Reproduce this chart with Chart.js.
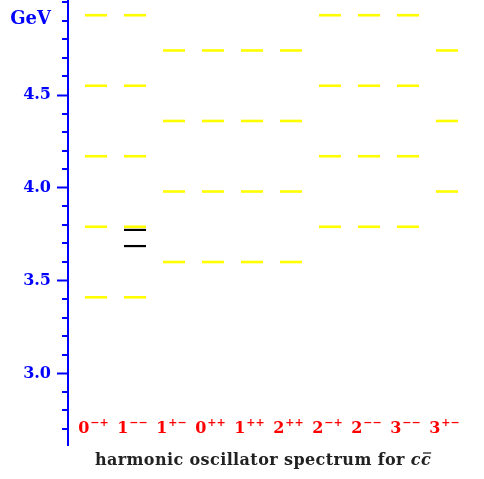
<!DOCTYPE html>
<html><head><meta charset="utf-8">
<script src="https://cdn.jsdelivr.net/npm/chart.js@4/dist/chart.umd.min.js"></script>
<style>html,body{margin:0;padding:0;background:#fff}#wrap{width:484px;height:479px}</style>
</head><body><div id="wrap"><canvas id="c" width="484" height="479"></canvas></div>
<script>
// ---- data ----
const jpcSpin  = ['0','1','1','0','1','2','2','2','3','3'];
const jpcSigns = ['\u2212+','\u2212\u2212','+\u2212','++','++','++','\u2212+','\u2212\u2212','\u2212\u2212','+\u2212'];
const hoLevels = [
  [3.41, 3.79, 4.17, 4.55, 4.93],
  [3.41, 3.79, 4.17, 4.55, 4.93],
  [3.60, 3.98, 4.36, 4.74],
  [3.60, 3.98, 4.36, 4.74],
  [3.60, 3.98, 4.36, 4.74],
  [3.60, 3.98, 4.36, 4.74],
  [3.79, 4.17, 4.55, 4.93],
  [3.79, 4.17, 4.55, 4.93],
  [3.79, 4.17, 4.55, 4.93],
  [3.98, 4.36, 4.74]
];
const expColumn = 2;               // 1-- column (1-based)
const expLevels = [3.686, 3.773];  // psi(2S), psi(3770)
const majorTicks = [3.0, 3.5, 4.0, 4.5];
const minorTicks = [2.7, 2.8, 2.9, 3.1, 3.2, 3.3, 3.4, 3.6, 3.7, 3.8, 3.9, 4.1, 4.2, 4.3, 4.4, 4.6, 4.7, 4.8, 4.9, 5.0];
const unitTick = 4.9;
const unitLabel = 'GeV';
const titleText = 'harmonic oscillator spectrum for ';
const titleMath = 'c';

// ---- build datasets ----
const hoPoints = [];
hoLevels.forEach((lv, i) => lv.forEach(v => hoPoints.push({x: i + 1, y: v})));
const expPoints = expLevels.map(v => ({x: expColumn, y: v}));

const BLUE = '#0000ff';
const SERIF = '"DejaVu Serif", "Liberation Serif", serif';

const overlay = {
  id: 'overlay',
  afterDraw(chart) {
    const ctx = chart.ctx, ys = chart.scales.y, xs = chart.scales.x, ca = chart.chartArea;
    ctx.save();
    // minor ticks
    ctx.strokeStyle = BLUE; ctx.lineWidth = 2;
    minorTicks.forEach(v => {
      const y = Math.round(ys.getPixelForValue(v));
      ctx.beginPath(); ctx.moveTo(ca.left - 6, y); ctx.lineTo(ca.left, y); ctx.stroke();
    });
    // unit label (at minor tick position)
    ctx.fillStyle = BLUE; ctx.textAlign = 'right'; ctx.textBaseline = 'middle';
    ctx.font = 'bold 18px ' + SERIF;
    ctx.fillText(unitLabel, ca.left - 17, ys.getPixelForValue(unitTick) - 1);
    // JPC labels
    ctx.fillStyle = '#ff0000'; ctx.textBaseline = 'alphabetic'; ctx.textAlign = 'left';
    const base = ca.bottom - 12;
    jpcSpin.forEach((s, i) => {
      const x = xs.getPixelForValue(i + 1) - 3;
      ctx.font = 'bold 16px ' + SERIF;
      const w1 = ctx.measureText(s).width;
      ctx.font = 'bold 11px ' + SERIF;
      const w2 = ctx.measureText(jpcSigns[i]).width;
      const x0 = x - (w1 + w2) / 2;
      ctx.font = 'bold 16px ' + SERIF;
      ctx.fillText(s, x0, base);
      ctx.font = 'bold 11px ' + SERIF;
      ctx.fillText(jpcSigns[i], x0 + w1 + 1, base - 7);
    });
    // title
    ctx.fillStyle = '#222222';
    ctx.letterSpacing = '0.4px';
    ctx.font = 'bold 16px ' + SERIF;
    const wt = ctx.measureText(titleText).width;
    ctx.font = 'italic bold 16px ' + SERIF;
    const wc = ctx.measureText(titleMath).width;
    const total = wt + 2 * wc;
    const tx = 263 - total / 2, ty = 465;
    ctx.font = 'bold 16px ' + SERIF;
    ctx.fillText(titleText, tx, ty);
    ctx.font = 'italic bold 16px ' + SERIF;
    ctx.fillText(titleMath, tx + wt, ty);
    ctx.fillText(titleMath, tx + wt + wc, ty);
    ctx.strokeStyle = '#222222'; ctx.lineWidth = 1.3;
    ctx.beginPath(); ctx.moveTo(tx + wt + wc + 2, ty - 12); ctx.lineTo(tx + wt + 2 * wc, ty - 12); ctx.stroke();
    ctx.restore();
  }
};

const zeroPad = s => {
  s.width = 68;
  s.paddingTop = 0; s.paddingBottom = 0;
};

new Chart(document.getElementById('c'), {
  type: 'scatter',
  data: {
    datasets: [
      {data: hoPoints, pointStyle: 'line', pointRadius: 11, pointHoverRadius: 11,
       borderColor: '#ffff00', backgroundColor: '#ffff00', pointBorderWidth: 2.6, borderWidth: 2.6},
      {data: expPoints, pointStyle: 'line', pointRadius: 11, pointHoverRadius: 11,
       borderColor: '#000000', backgroundColor: '#000000', pointBorderWidth: 2.2, borderWidth: 2.2}
    ]
  },
  options: {
    responsive: false,
    animation: false,
    events: [],
    layout: {autoPadding: false, padding: {top: 0, right: 0, bottom: 34, left: 0}},
    plugins: {legend: {display: false}, tooltip: {enabled: false}, title: {display: false}},
    scales: {
      x: {type: 'linear', min: 0.282, max: 10.95, display: false},
      y: {
        type: 'linear', min: 2.614, max: 5.012,
        afterBuildTicks: s => { s.ticks = majorTicks.map(v => ({value: v})); },
        afterFit: zeroPad,
        border: {display: true, color: BLUE, width: 2},
        grid: {display: true, drawOnChartArea: false, drawTicks: true, tickLength: 11, tickWidth: 2, tickColor: BLUE},
        ticks: {
          autoSkip: false, padding: 6, color: BLUE,
          font: {family: SERIF, weight: 'bold', size: 16},
          callback: v => v.toFixed(1)
        }
      }
    }
  },
  plugins: [overlay]
});
</script></body></html>
